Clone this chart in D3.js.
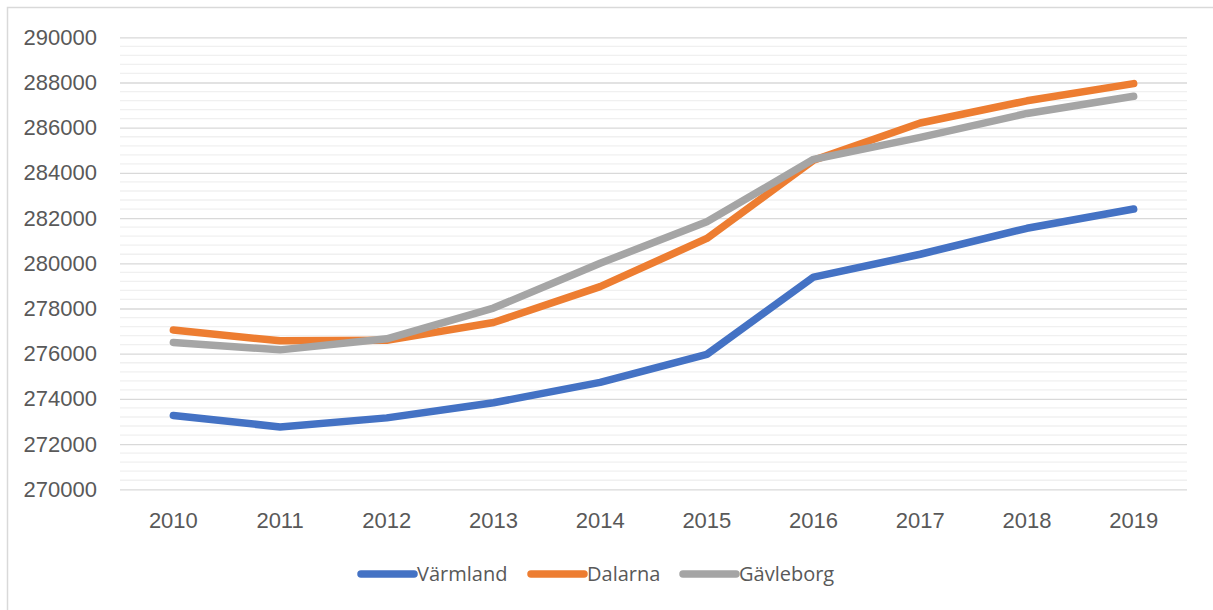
<!DOCTYPE html>
<html>
<head>
<meta charset="utf-8">
<script src="https://cdn.jsdelivr.net/npm/d3@7"></script>
<style>
  body { margin: 0; background: #fff; }
  svg { display: block; font-family: "Open Sans", "Liberation Sans", sans-serif; }
</style>
</head>
<body>
<div id="chart"></div>
<script>
// data
const years = ['2010', '2011', '2012', '2013', '2014', '2015', '2016', '2017', '2018', '2019'];
const varmland = [273270, 272760, 273160, 273830, 274730, 275970, 279390, 280400, 281550, 282400];
const dalarna = [277045, 276570, 276590, 277380, 278970, 281100, 284560, 286210, 287190, 287950];
const gavleborg = [276500, 276170, 276660, 278020, 280000, 281840, 284600, 285570, 286630, 287390];
const seriesNames = ['Värmland', 'Dalarna', 'Gävleborg'];
const yTicks = [270000, 272000, 274000, 276000, 278000, 280000, 282000, 284000, 286000, 288000, 290000];

const colors = ['#4472C4', '#ED7D31', '#A5A5A5'];
const series = [varmland, dalarna, gavleborg].map((vals, i) => ({
  name: seriesNames[i],
  values: vals.map((v, j) => ({ year: years[j], value: v }))
}));

const W = 1213, H = 610;
const margin = { top: 37.3, right: 26, bottom: 120.7, left: 120 };
const width = W - margin.left - margin.right;
const height = H - margin.top - margin.bottom;

const svg = d3.select('#chart')
  .append('svg')
  .attr('width', W)
  .attr('height', H);

// outer chart frame
svg.append('rect')
  .attr('x', 7.5).attr('y', 7.5)
  .attr('width', W + 20).attr('height', H + 20)
  .attr('fill', 'none')
  .attr('stroke', '#d9d9d9')
  .attr('stroke-width', 1.5);

const g = svg.append('g')
  .attr('transform', `translate(${margin.left},${margin.top})`);

const x = d3.scaleBand().domain(years).range([0, width]);
const y = d3.scaleLinear().domain([270000, 290000]).range([height, 0]);

// minor gridlines every 400
const minor = d3.range(270000, 290001, 400).filter(v => v % 2000 !== 0);
g.append('g')
  .selectAll('line')
  .data(minor)
  .join('line')
  .attr('x1', 0).attr('x2', width)
  .attr('y1', d => y(d)).attr('y2', d => y(d))
  .attr('stroke', '#f0f0f0')
  .attr('stroke-width', 1.3);

// major gridlines + y labels
g.append('g')
  .call(d3.axisLeft(y).tickValues(yTicks).tickSize(-width).tickFormat(d3.format('d')))
  .call(a => a.select('.domain').remove())
  .call(a => a.selectAll('.tick line').attr('stroke', '#d9d9d9').attr('stroke-width', 1.3))
  .call(a => a.selectAll('.tick text')
    .attr('fill', '#595959')
    .style('font-size', '22px')
    .attr('x', -23));

// x axis labels
g.append('g')
  .attr('transform', `translate(0,${height})`)
  .call(d3.axisBottom(x).tickSize(0).tickPadding(23))
  .call(a => a.select('.domain').remove())
  .call(a => a.selectAll('.tick text')
    .attr('fill', '#595959')
    .style('font-size', '22px'));

const line = d3.line()
  .x(d => x(d.year) + x.bandwidth() / 2)
  .y(d => y(d.value));

g.selectAll('.series')
  .data(series)
  .join('path')
  .attr('class', 'series')
  .attr('fill', 'none')
  .attr('stroke', (d, i) => colors[i])
  .attr('stroke-width', 7.5)
  .attr('stroke-linecap', 'round')
  .attr('stroke-linejoin', 'round')
  .attr('d', d => line(d.values));

// legend
const legendX = [361, 531, 683];
const legend = svg.append('g')
  .selectAll('g')
  .data(series)
  .join('g')
  .attr('transform', (d, i) => `translate(${legendX[i]},574)`);

legend.append('line')
  .attr('x1', 0).attr('x2', 53)
  .attr('stroke', (d, i) => colors[i])
  .attr('stroke-width', 7.5)
  .attr('stroke-linecap', 'round');

legend.append('text')
  .attr('x', 56)
  .attr('dy', '0.35em')
  .attr('fill', '#595959')
  .style('font-size', '20px')
  .text(d => d.name);
</script>
</body>
</html>
